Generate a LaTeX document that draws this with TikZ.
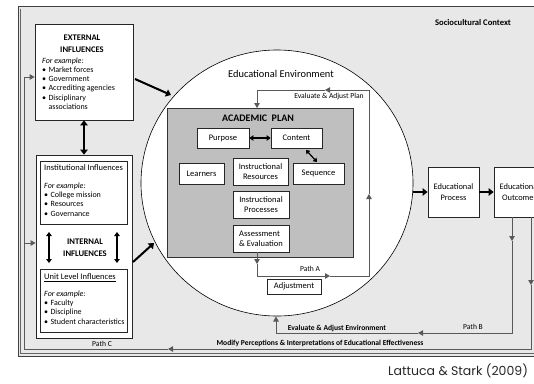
\documentclass[tikz,border=0pt]{standalone}
\usepackage{fontspec}
\setmainfont{Carlito}
\newfontfamily\citefont{Poppins}
\usetikzlibrary{arrows.meta,shapes.geometric}
\newcommand\szList{\fontsize{8}{9.3}\selectfont}
\newcommand\szBox{\fontsize{8.5}{10.2}\selectfont}
\newcommand\szLbl{\fontsize{7.6}{9}\selectfont}
\newcommand\szTitle{\fontsize{8.6}{11}\selectfont}
\newcommand\bul{\textbullet\hspace{2.4pt}}
\newcommand\bulsp{\phantom{\textbullet}\hspace{2.4pt}}
\begin{document}
\begin{tikzpicture}[x=1pt,y=-1pt,
  box/.style={draw=black!85,fill=white,line width=0.8pt,inner sep=0pt,align=center,font=\szBox},
  conn/.style={draw=black!65,line width=0.9pt},
  tip/.style={-{Triangle[length=5pt,width=5.5pt]}},
  big/.style={draw=black,line width=2pt,-{Triangle[length=5pt,width=7.5pt]}},
  bigboth/.style={draw=black,line width=2pt,{Triangle[length=5pt,width=7.5pt]}-{Triangle[length=5pt,width=7.5pt]}},
  medboth/.style={draw=black,line width=1.4pt,{Triangle[length=4pt,width=5.5pt]}-{Triangle[length=4pt,width=5.5pt]}},
  lbl/.style={inner sep=0pt,font=\szLbl},
  blbl/.style={inner sep=0pt,font=\szLbl\bfseries},
  txt/.style={inner sep=0pt,align=left,font=\szList}]
\useasboundingbox (0,0) rectangle (534,383);
\clip (0,0) rectangle (534,383);
% sociocultural frame
\fill[black!9] (18,6) rectangle (600,356);
\draw[black!75,line width=0.9pt] (18,6) rectangle (600,356);
\draw[black!60,line width=0.5pt] (20.5,8.5) -- (20.5,353.5) -- (600,353.5);
\node[inner sep=0pt,font=\szTitle\bfseries] (socio) at (473,23) {Sociocultural Context};

% external influences
\node[box,minimum width=98pt,minimum height=96pt] (ext) at (84,72) {};
\node[inner sep=0pt,align=center,font=\szTitle\bfseries] (extt) at (82,44) {EXTERNAL\\[1pt]INFLUENCES};
\node[txt,anchor=north west] (extl) at (42,57.3) {\textit{For example:}\\\bul Market forces\\\bul Government\\\bul Accrediting agencies\\\bul Disciplinary\\\bulsp associations};

% internal influences
\node[box,minimum width=96pt,minimum height=183pt] (intouter) at (84,246.5) {};
\node[box,minimum width=87pt,minimum height=63pt] (inst) at (83.5,192.5) {};
\node[box,minimum width=87pt,minimum height=63pt] (unit) at (83.5,300.5) {};
\node[txt,anchor=north west] (instl) at (44,164.5) {{\fontsize{8.5}{9.3}\selectfont Institutional Influences}\\[8.4pt]\textit{For example:}\\\bul College mission\\\bul Resources\\\bul Governance};
\node[txt,anchor=north west] (unitl) at (44,273.5) {{\fontsize{8.5}{9.3}\selectfont\underline{Unit Level Influences}}\\[7.4pt]\textit{For example:}\\\bul Faculty\\\bul Discipline\\\bul Student characteristics};
\node[inner sep=0pt,align=center,font=\szTitle\bfseries] (intt) at (85,247.5) {INTERNAL\\[1pt]INFLUENCES};
\coordinate (dl1) at (49,232); \coordinate (dl2) at (49,263);
\coordinate (dr1) at (117,232); \coordinate (dr2) at (117,263);
\draw[medboth] (dl1) -- (dl2);
\draw[medboth] (dr1) -- (dr2);
\draw[bigboth] (ext.south) -- (intouter.north);

% educational environment
\node[ellipse,draw=black,fill=white,line width=0.6pt,minimum width=272pt,minimum height=266pt,inner sep=0pt] (env) at (277,183) {};
\node[inner sep=0pt,font=\fontsize{10.4}{12}\selectfont] (envt) at (281,74) {Educational Environment};

% academic plan
\node[draw=black!80,fill=black!25,line width=1pt,minimum width=186pt,minimum height=149pt,inner sep=0pt] (plan) at (260,182.5) {};
\node[inner sep=0pt,font=\fontsize{10}{12}\selectfont\bfseries] (plant) at (258,118) {ACADEMIC\ \ PLAN};
\node[box,minimum width=52pt,minimum height=20pt] (purpose) at (223,138) {Purpose};
\node[box,minimum width=51pt,minimum height=20pt] (content) at (296.5,138) {Content};
\node[box,minimum width=45pt,minimum height=21pt] (learners) at (201.5,173.5) {Learners};
\node[box,minimum width=55pt,minimum height=27pt] (instres) at (260.5,171.5) {Instructional\\Resources};
\node[box,minimum width=51pt,minimum height=21pt] (sequence) at (318.5,173.5) {Sequence};
\node[box,minimum width=56pt,minimum height=27pt] (instproc) at (261,204.5) {Instructional\\Processes};
\node[box,minimum width=56pt,minimum height=27pt,align=left] (assess) at (261,238.5) {Assessment\\\&~Evaluation};
\node[box,minimum width=54pt,minimum height=15pt] (adjust) at (294,286.5) {Adjustment};
\draw[medboth] (purpose.east) -- (content.west);
\coordinate (cs1) at (306,150); \coordinate (cs2) at (317,162);
\draw[draw=black,line width=1.2pt,{Triangle[length=3.5pt,width=5pt]}-{Triangle[length=3.5pt,width=5pt]}] (cs1) -- (cs2);

% evaluate & adjust plan loop
\coordinate (pa0) at (257,252);
\coordinate (pa1) at (257,264);
\coordinate (pa2) at (257,276);
\coordinate (pa3) at (330,276);
\coordinate (pa4) at (369,276);
\coordinate (pa5) at (369,194);
\coordinate (pa6) at (369,90);
\coordinate (pa7) at (325,90);
\coordinate (pa8) at (257,90);
\coordinate (pa9) at (257,108);
\draw[conn,tip] (pa0) -- (pa1);
\draw[conn,tip] (pa1) -- (pa2) -- (pa3);
\draw[conn,tip] (pa3) -- (pa4) -- (pa5);
\draw[conn,tip] (pa5) -- (pa6) -- (pa7);
\draw[conn,tip] (pa7) -- (pa8) -- (pa9);
\node[lbl] (evp) at (329,97) {Evaluate \& Adjust Plan};
\node[lbl] (pathA) at (310,269) {Path A};

% process and outcomes
\node[box,minimum width=51pt,minimum height=50pt,font=\fontsize{8.4}{10.5}\selectfont] (process) at (453.5,192) {Educational\\Process};
\node[box,minimum width=51pt,minimum height=50pt,font=\fontsize{8.4}{10.5}\selectfont] (outcomes) at (519.5,192) {Educational\\Outcomes};
\draw[big] (process.west -| env.east) -- (process.west);
\draw[big] (process.east) -- (outcomes.west);

% influences into the environment
\coordinate (e1) at (135,79); \coordinate (e2) at (171,95);
\draw[big] (e1) -- (e2);
\coordinate (i1) at (133,262); \coordinate (i2) at (154,243);
\draw[big] (i1) -- (i2);

% path B
\coordinate (b0) at (512,217);
\coordinate (b1) at (512,241);
\coordinate (b2) at (512,333);
\coordinate (b3) at (418,333);
\coordinate (b4) at (276,333);
\coordinate (b5) at (276,316.5);
\draw[conn,tip] (b0) -- (b1);
\draw[conn,tip] (b1) -- (b2) -- (b3);
\draw[conn,tip] (b3) -- (b4) -- (b5);
\node[blbl] (evenv) at (337,328) {Evaluate \& Adjust Environment};
\node[lbl] (pathB) at (473,327) {Path B};

% path C
\coordinate (c0) at (531,217);
\coordinate (c1) at (531,285);
\coordinate (c2) at (531,349);
\coordinate (c3) at (168,349);
\coordinate (c4) at (24,349);
\coordinate (c5) at (24,77);
\coordinate (c6) at (24,243);
\draw[conn,tip] (c0) -- (c1);
\draw[conn,tip] (c1) -- (c2) -- (c3);
\draw[conn,tip] (c3) -- (c4) -- (c5) -- (c5 -| ext.west);
\draw[conn,tip] (c6) -- (c6 -| intouter.west);
\node[blbl] (modify) at (320,343.5) {Modify Perceptions \& Interpretations of Educational Effectiveness};
\node[lbl] (pathC) at (102,343.5) {Path C};

% citation
\node[inner sep=0pt,anchor=west,font=\citefont\fontsize{12.5}{14}\selectfont,text=black!85] (cite) at (388,371) {Lattuca \& Stark (2009)};
\end{tikzpicture}
\end{document}
